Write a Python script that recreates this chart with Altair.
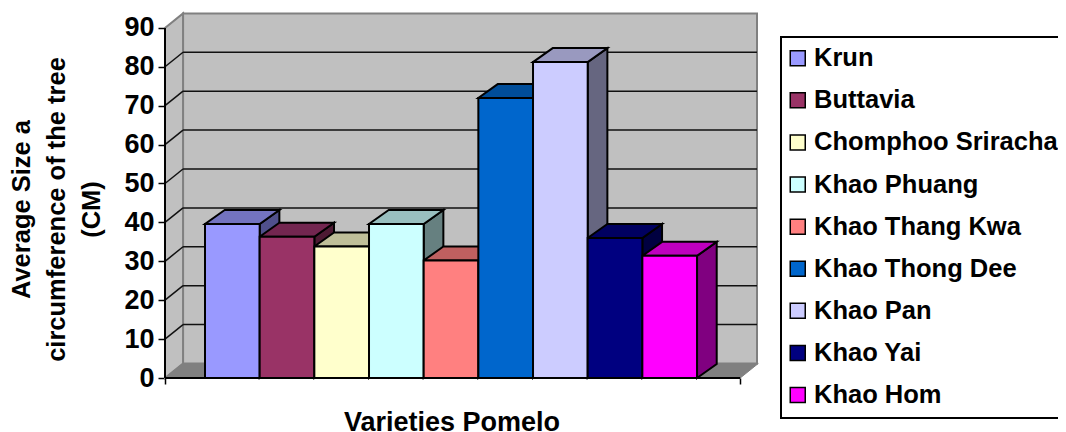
import altair as alt
import pandas as pd

categories = ["Krun", "Buttavia", "Chomphoo Sriracha", "Khao Phuang", "Khao Thang Kwa",
              "Khao Thong Dee", "Khao Pan", "Khao Yai", "Khao Hom"]
values = [39.6, 36.3, 33.8, 39.6, 30.2, 72.0, 81.2, 36.0, 31.4]
front_colors = ["#9999FF", "#993366", "#FFFFCC", "#CCFFFF", "#FF8080",
                "#0066CC", "#CCCCFF", "#000080", "#FF00FF"]
top_colors = ["#7373BF", "#732650", "#BFBF99", "#99BFBF", "#BF6060",
              "#004D99", "#9999BF", "#000060", "#BF00BF"]
side_colors = ["#50508C", "#4D1A33", "#808066", "#668080", "#804040",
               "#003366", "#666680", "#000040", "#800080"]
tick_values = [0, 10, 20, 30, 40, 50, 60, 70, 80, 90]
grid_values = [10, 20, 30, 40, 50, 60, 70, 80]
y_title = ["Average Size a", "circumference of the tree", "(CM)"]
x_title = "Varieties Pomelo"

# scale set-up (slots along x, value units along y)
XMIN, XFRONT, XMAX = -0.7317, 9.79, 10.097
YMAX = 93.57
WALL_DX, WALL_DY = 0.33, 3.73
BAR_DX, BAR_DY = 0.36, 3.6
BAR_W = 1.0
FONT = "Liberation Sans"

xs = alt.Scale(domain=[XMIN, XMAX], nice=False, zero=False)
ys = alt.Scale(domain=[0, YMAX], nice=False, zero=False)

x_axis = alt.Axis(values=[XMIN, XFRONT], labels=False, domain=False, grid=False, ticks=True,
                  tickColor="black", tickWidth=1.5, tickSize=6, title=x_title, titleFont=FONT,
                  titleFontSize=27, titleFontWeight="bold", titleColor="black",
                  titleX=286.5, titleY=52, titleBaseline="alphabetic")
y_axis = alt.Axis(values=tick_values, domain=False, grid=False, tickColor="black", tickWidth=1.5,
                  tickSize=7, labelFont=FONT, labelFontSize=27, labelFontWeight="bold",
                  labelColor="black", labelPadding=4, title=y_title, titleFont=FONT,
                  titleFontSize=25.5, titleFontWeight="bold", titleColor="black", titleAngle=-90,
                  titleLineHeight=35, titleX=-131, titleY=195, titleAlign="center")


def X():
    return alt.X("x:Q", scale=xs, axis=x_axis)


def Y():
    return alt.Y("y:Q", scale=ys, axis=y_axis)


# ---- frame ----
back_wall = alt.Chart(pd.DataFrame([{"x": XMIN + WALL_DX, "x2": XMAX, "y": WALL_DY, "y2": 90 + WALL_DY}])).mark_rect(
    fill="#C0C0C0", stroke="#808080", strokeWidth=2
).encode(x=X(), x2="x2:Q", y=Y(), y2="y2:Q")

left_wall = alt.Chart(pd.DataFrame([
    {"x": XMIN, "y": 0, "y2": 90},
    {"x": XMIN + WALL_DX, "y": WALL_DY, "y2": 90 + WALL_DY},
])).mark_area(fill="#C0C0C0", stroke="#808080", strokeWidth=2, orient="vertical").encode(x=X(), y=Y(), y2="y2:Q")

floor = alt.Chart(pd.DataFrame([
    {"y": 0, "x": XMIN, "x2": XFRONT},
    {"y": WALL_DY, "x": XMIN + WALL_DX, "x2": XFRONT + WALL_DX},
])).mark_area(fill="#808080", stroke="#808080", strokeWidth=1, orient="horizontal").encode(x=X(), x2="x2:Q", y=Y())

grid_back = alt.Chart(pd.DataFrame([{"y": v + WALL_DY, "x": XMIN + WALL_DX, "x2": XMAX} for v in grid_values])).mark_rule(
    color="#111111", strokeWidth=1.5
).encode(x=X(), x2="x2:Q", y=Y())

grid_side_rows = []
for v in grid_values:
    grid_side_rows.append({"v": v, "x": XMIN, "y": v})
    grid_side_rows.append({"v": v, "x": XMIN + WALL_DX, "y": v + WALL_DY})
grid_side = alt.Chart(pd.DataFrame(grid_side_rows)).mark_line(color="#111111", strokeWidth=1.5).encode(
    x=X(), y=Y(), detail="v:N")

# ---- bars ----
side_rows, top_rows, front_rows = [], [], []
for i, (c, v) in enumerate(zip(categories, values)):
    side_rows.append({"variety": c, "face": side_colors[i], "x": i + BAR_W, "y": 0, "y2": v})
    side_rows.append({"variety": c, "face": side_colors[i], "x": i + BAR_W + BAR_DX, "y": BAR_DY, "y2": v + BAR_DY})
    top_rows.append({"variety": c, "face": top_colors[i], "y": v, "x": i, "x2": i + BAR_W})
    top_rows.append({"variety": c, "face": top_colors[i], "y": v + BAR_DY, "x": i + BAR_DX, "x2": i + BAR_W + BAR_DX})
    front_rows.append({"variety": c, "x": i, "x2": i + BAR_W, "y": 0, "y2": v})

sides = alt.Chart(pd.DataFrame(side_rows)).mark_area(stroke="black", strokeWidth=2, orient="vertical").encode(
    x=X(), y=Y(), y2="y2:Q", detail="variety:N", fill=alt.Fill("face:N", scale=None))
tops = alt.Chart(pd.DataFrame(top_rows)).mark_area(stroke="black", strokeWidth=2, orient="horizontal").encode(
    x=X(), x2="x2:Q", y=Y(), detail="variety:N", fill=alt.Fill("face:N", scale=None))
fronts = alt.Chart(pd.DataFrame(front_rows)).mark_rect(stroke="black", strokeWidth=2).encode(
    x=X(), x2="x2:Q", y=Y(), y2="y2:Q",
    color=alt.Color("variety:N", sort=categories,
                    scale=alt.Scale(domain=categories, range=front_colors),
                    legend=alt.Legend(title=None, orient="none", legendX=616, legendY=23,
                                      symbolType="square", symbolSize=225, symbolStrokeColor="black",
                                      symbolStrokeWidth=1.5, symbolOpacity=1, symbolOffset=-4.5,
                                      labelFont=FONT, labelFontSize=25.5,
                                      labelFontWeight="bold", labelColor="black", labelLimit=400,
                                      labelOffset=3.5, rowPadding=15.1, padding=8.5,
                                      strokeColor="black", fillColor="white")))

# ---- axis lines ----
axis_v = alt.Chart(pd.DataFrame([{"x": XMIN, "y": 0, "y2": 90}])).mark_rule(color="black", strokeWidth=2).encode(
    x=X(), y=Y(), y2="y2:Q")
axis_h = alt.Chart(pd.DataFrame([{"x": XMIN, "x2": XFRONT, "y": 0}])).mark_rule(color="black", strokeWidth=2).encode(
    x=X(), x2="x2:Q", y=Y())

chart = alt.layer(back_wall, left_wall, floor, grid_back, grid_side, sides, tops, fronts, axis_v, axis_h).properties(
    width=592, height=364,
    padding={"left": 157, "top": 6, "right": 301, "bottom": 54},
    autosize=alt.AutoSizeParams(type="none"),
    background="white",
).configure_view(stroke=None).configure_legend(strokeWidth=2)

chart.save("out.html", embed_options={"renderer": "svg", "actions": False})
